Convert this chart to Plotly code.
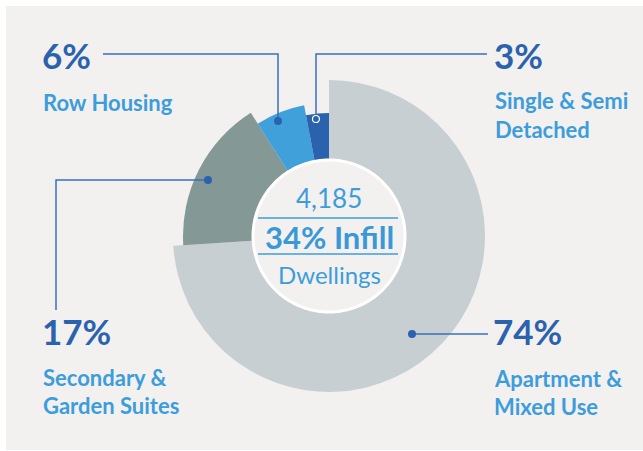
import numpy as np
import plotly.graph_objects as go

# ---- data ----
categories = ["Apartment & Mixed Use", "Secondary & Garden Suites", "Row Housing", "Single & Semi Detached"]
shares = [74, 17, 6, 3]
ring_radius = [156, 146, 133, 123]
slice_colors = ["#c8cfd2", "#849896", "#40a0da", "#2b62ae"]
pct_labels = ["74%", "17%", "6%", "3%"]
name_lines = [["Apartment &", "Mixed Use"], ["Secondary &", "Garden Suites"], ["Row Housing"], ["Single & Semi", "Detached"]]
total_dwellings = "4,185"
infill_label = "34% Infill"
unit_label = "Dwellings"

W, H = 643, 451
DARK = "#2b62ae"
LIGHT = "#3d9ddb"
BG = "#f2f1f0"
FONT = "Lato"

def px(x):
    return x / W

def py(y):
    return 1 - y / H

# angular geometry from shares
widths = [s / sum(shares) * 360 for s in shares]
starts = np.cumsum([0] + widths[:-1])
centers = [st + w / 2 for st, w in zip(starts, widths)]

fig = go.Figure()
fig.add_trace(go.Barpolar(
    r=ring_radius, theta=centers, width=widths,
    marker=dict(color=slice_colors, line=dict(width=0)),
    hoverinfo="skip", showlegend=False,
))
# center disc
th = np.linspace(0, 360, 361)
fig.add_trace(go.Scatterpolar(
    r=[76] * len(th), theta=th, mode="lines", fill="toself",
    fillcolor=BG, line=dict(color="white", width=3),
    hoverinfo="skip", showlegend=False,
))

cx, cy, R = 329, 236, 157
fig.update_layout(
    width=W, height=H,
    margin=dict(l=0, r=0, t=0, b=0),
    paper_bgcolor="white",
    polar=dict(
        domain=dict(x=[px(cx - R), px(cx + R)], y=[py(cy + R), py(cy - R)]),
        bgcolor="rgba(0,0,0,0)",
        radialaxis=dict(range=[0, R], visible=False, showgrid=False),
        angularaxis=dict(direction="clockwise", rotation=90, visible=False, showgrid=False),
        bargap=0,
    ),
)

shapes = [dict(type="rect", xref="paper", yref="paper", x0=px(6), x1=px(643), y0=py(450), y1=py(6),
               fillcolor=BG, line=dict(width=0), layer="below")]

def path(pts):
    s = "M " + " L ".join(f"{px(x)},{py(y)}" for x, y in pts)
    return dict(type="path", xref="paper", yref="paper", path=s, line=dict(color="#3a6fbe", width=1.5))

def dot(x, y, r=4, fill=DARK, line=None):
    return dict(type="circle", xref="paper", yref="paper", x0=px(x - r), x1=px(x + r), y0=py(y + r), y1=py(y - r),
                fillcolor=fill, line=line or dict(width=0), layer="above")

shapes += [
    path([(103, 54), (278, 54), (278, 121)]),
    path([(487, 54), (316, 54), (316, 119)]),
    path([(56, 310), (56, 180), (208, 180)]),
    path([(412, 334), (488, 334)]),
    dot(278, 121), dot(208, 180), dot(412, 334),
    dot(316, 119, 3.5, fill=DARK, line=dict(color="white", width=1.2)),
    # center rules
    dict(type="line", xref="paper", yref="paper", x0=px(258), x1=px(398), y0=py(218), y1=py(218),
         line=dict(color=LIGHT, width=1.5)),
    dict(type="line", xref="paper", yref="paper", x0=px(258), x1=px(398), y0=py(254), y1=py(254),
         line=dict(color=LIGHT, width=1.5)),
]

ann = []
def text(t, x, y, size, color, bold=True, anchor="left"):
    ann.append(dict(text=f"<b>{t}</b>" if bold else t, x=px(x), y=py(y), xref="paper", yref="paper",
                    xanchor=anchor, yanchor="middle", showarrow=False,
                    font=dict(family=FONT, size=size, color=color)))

# label positions (pixel) per category: (x, pct_y, first_line_y)
label_pos = [(493, 331, 378), (42, 331, 377), (42, 55, 102), (494, 55, 101)]
for (x, yp, yl), pct, lines in zip(label_pos, pct_labels, name_lines):
    text(pct, x - 2, yp, 35, DARK)
    for i, ln in enumerate(lines):
        text(ln, x - 1, yl + 28 * i, 22, LIGHT)

text(total_dwellings, 329, 198, 26, LIGHT, bold=False, anchor="center")
text(infill_label, 329, 237, 31, "#3b98d6", anchor="center")
text(unit_label, 329, 274, 24, LIGHT, bold=False, anchor="center")

fig.update_layout(shapes=shapes, annotations=ann)
fig.write_html("out.html", config={"displayModeBar": False},
               post_script="document.body.style.margin='0';document.body.style.padding='0';")
